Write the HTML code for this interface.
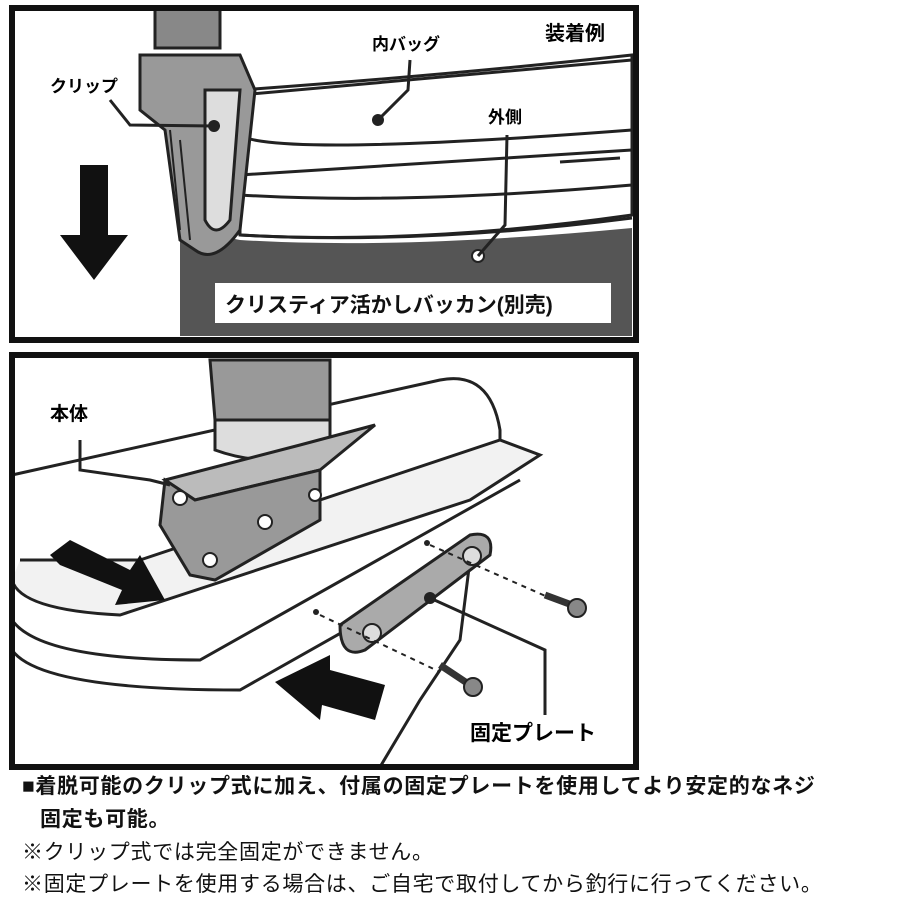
<!DOCTYPE html>
<html><head><meta charset="utf-8"><style>
body{margin:0;background:#fff;width:900px;height:900px;overflow:hidden;font-family:"Liberation Sans","Noto Sans CJK JP",sans-serif}
svg{position:absolute;left:0;top:0}
.t{position:absolute;left:22px;font-size:21px;letter-spacing:0.7px;line-height:28px;color:#111;white-space:nowrap}
</style></head><body>
<svg width="900" height="900" viewBox="0 0 900 900">
<rect x="12" y="8" width="624" height="332" fill="#fff"/>
<path d="M180 228 L240 240 Q400 250 632 228 L632 336 L180 336 Z" fill="#555"/>
<path d="M240 95 L632 60 M235 130 Q240 160 632 130 M240 175 L632 150 M240 195 Q400 205 632 185 M240 235 Q420 245 632 218" stroke="#222" stroke-width="3" fill="none"/>
<path d="M240 90 Q450 75 632 55 L632 215 Q420 245 240 235 Z" fill="none" stroke="#222" stroke-width="3"/>
<line x1="560" y1="162" x2="620" y2="158" stroke="#222" stroke-width="3"/>
<rect x="215" y="283" width="396" height="40" fill="#fff"/>
<text x="225" y="312" font-size="21" font-weight="bold" fill="#111">クリスティア活かしバッカン(別売)</text>
<rect x="155" y="8" width="65" height="40" fill="#888" stroke="#222" stroke-width="3"/>
<path d="M140 55 L240 55 L255 90 L240 230 Q215 265 195 250 L180 240 L165 130 L140 110 Z" fill="#999" stroke="#222" stroke-width="3"/>
<path d="M205 90 L240 90 L230 220 Q215 240 205 220 Z" fill="#ddd" stroke="#222" stroke-width="3"/>
<path d="M180 140 L190 240 M170 130 L180 230" stroke="#222" stroke-width="2"/>
<circle cx="214" cy="126" r="6" fill="#222"/>
<path d="M110 100 L130 125 L214 126" stroke="#222" stroke-width="3" fill="none"/>
<text x="50" y="92" font-size="17" font-weight="bold">クリップ</text>
<circle cx="378" cy="120" r="6" fill="#222"/>
<path d="M378 120 L408 90 L410 60" stroke="#222" stroke-width="3" fill="none"/>
<text x="372" y="50" font-size="17" font-weight="bold">内バッグ</text>
<circle cx="478" cy="256" r="6" fill="#fff" stroke="#222" stroke-width="2"/>
<path d="M478 256 L505 225 L507 135" stroke="#222" stroke-width="3" fill="none"/>
<text x="488" y="123" font-size="17" font-weight="bold">外側</text>
<text x="545" y="40" font-size="20" font-weight="bold">装着例</text>
<path d="M80 165 L108 165 L108 235 L128 235 L94 280 L60 235 L80 235 Z" fill="#111"/>
<rect x="12" y="8" width="624" height="332" fill="none" stroke="#111" stroke-width="6"/>
<rect x="12" y="355" width="624" height="412" fill="#fff"/>
<path d="M12 475 L440 380 Q490 370 500 430 L500 470 L520 450" stroke="#222" stroke-width="3" fill="none"/>
<path d="M12 580 Q20 610 120 615 L470 500 L540 455 L500 440 L140 560 L20 560" stroke="#222" stroke-width="3" fill="#f2f2f2"/>
<path d="M12 620 Q40 660 200 660 L520 480" stroke="#222" stroke-width="3" fill="none"/>
<path d="M12 650 Q40 690 240 690 L470 560 L460 640 L420 700 L380 767" stroke="#222" stroke-width="3" fill="none"/>
<path d="M210 360 L330 360 L330 420 L215 420 Z" fill="#999" stroke="#222" stroke-width="3"/>
<path d="M215 420 L330 420 L330 450 Q270 470 215 450 Z" fill="#ddd" stroke="#222" stroke-width="3"/>
<path d="M165 480 L300 445 L375 425 L320 470 L195 500 Z" fill="#bbb" stroke="#222" stroke-width="3"/>
<path d="M165 480 L195 500 L320 470 L320 520 L215 580 L190 575 L160 525 Z" fill="#999" stroke="#222" stroke-width="3"/>
<circle cx="180" cy="498" r="7" fill="#fff" stroke="#222" stroke-width="2"/>
<circle cx="210" cy="560" r="7" fill="#fff" stroke="#222" stroke-width="2"/>
<circle cx="265" cy="522" r="7" fill="#fff" stroke="#222" stroke-width="2"/>
<circle cx="315" cy="495" r="6" fill="#fff" stroke="#222" stroke-width="2"/>
<path d="M80 440 L80 470 L150 480 L170 485" stroke="#222" stroke-width="3" fill="none"/>
<text x="50" y="420" font-size="19" font-weight="bold">本体</text>
<path d="M340 625 L470 535 Q495 530 490 555 L365 650 Q340 660 340 625 Z" fill="#aaa" stroke="#222" stroke-width="3"/>
<circle cx="372" cy="633" r="9" fill="#ddd" stroke="#222" stroke-width="2"/>
<circle cx="472" cy="556" r="9" fill="#ddd" stroke="#222" stroke-width="2"/>
<circle cx="430" cy="598" r="6" fill="#222"/>
<path d="M430 598 L545 650 L545 715" stroke="#222" stroke-width="3" fill="none"/>
<text x="470" y="740" font-size="21" font-weight="bold">固定プレート</text>
<path d="M320 615 L440 672 M430 545 L550 598" stroke="#222" stroke-width="2" stroke-dasharray="5,5"/>
<circle cx="316" cy="612" r="3" fill="#222"/><circle cx="427" cy="543" r="3" fill="#222"/>
<path d="M440 665 L470 685" stroke="#333" stroke-width="7"/><circle cx="473" cy="687" r="9" fill="#888" stroke="#222" stroke-width="2"/>
<path d="M545 595 L572 605" stroke="#333" stroke-width="7"/><circle cx="577" cy="608" r="9" fill="#888" stroke="#222" stroke-width="2"/>
<path d="M50 555 L70 540 L130 570 L140 555 L165 600 L115 605 L122 590 L60 565 Z" fill="#111"/>
<path d="M275 682 L330 655 L330 670 L385 685 L375 720 L322 705 L320 720 Z" fill="#111"/>
<rect x="12" y="355" width="624" height="412" fill="none" stroke="#111" stroke-width="6"/>
</svg>
<div class="t" style="top:773px;font-weight:bold">■着脱可能のクリップ式に加え、付属の固定プレートを使用してより安定的なネジ</div>
<div class="t" style="top:806px;left:40px;font-weight:bold">固定も可能。</div>
<div class="t" style="top:839px">※クリップ式では完全固定ができません。</div>
<div class="t" style="top:871px">※固定プレートを使用する場合は、ご自宅で取付してから釣行に行ってください。</div>
</body></html>
